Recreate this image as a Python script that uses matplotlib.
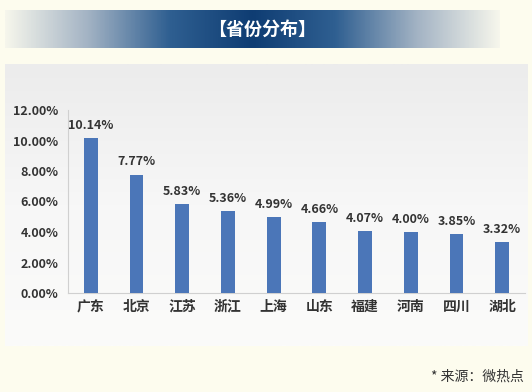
import matplotlib
matplotlib.use('Agg')
import matplotlib.pyplot as plt
from matplotlib.colors import LinearSegmentedColormap
import numpy as np

plt.rcParams['font.family'] = ['Noto Sans CJK SC', 'DejaVu Sans']

provinces = ['广东', '北京', '江苏', '浙江', '上海', '山东', '福建', '河南', '四川', '湖北']
shares = [10.14, 7.77, 5.83, 5.36, 4.99, 4.66, 4.07, 4.00, 3.85, 3.32]
y_ticks = [0, 2, 4, 6, 8, 10, 12]

W, H = 532, 392
fig = plt.figure(figsize=(W / 100, H / 100), dpi=100)
fig.patch.set_facecolor('#fdfcee')

# title banner with horizontal gradient
bx = fig.add_axes([5 / W, 1 - 48 / H, 495 / W, 38 / H])
x = np.linspace(-1, 1, 400)
grad = np.abs(x)[None, :]
banner = LinearSegmentedColormap.from_list('banner', ['#0f3d73', '#2f5f91', '#a3b3c4', '#f6f6ec'])
bx.imshow(grad, aspect='auto', cmap=banner, extent=[0, 1, 0, 1])
bx.text(0.52, 0.5, '【省份分布】', color='white', fontsize=13, fontweight='bold',
        ha='center', va='center')
bx.axis('off')

# panel background
px = fig.add_axes([5 / W, 1 - 346 / H, 523 / W, 282 / H])
g = np.linspace(0, 1, 300)[:, None]
panel = LinearSegmentedColormap.from_list('panel', ['#ececec', '#f7f7f7', '#fbfbfa'])
px.imshow(g, aspect='auto', cmap=panel, extent=[0, 1, 0, 1])
px.axis('off')

# chart
ax = fig.add_axes([68 / W, 1 - 293 / H, 457 / W, 183 / H])
ax.set_facecolor('none')
pos = np.arange(len(provinces))
ax.bar(pos, shares, width=0.3, color='#4b76b8', zorder=3)
for p, v in zip(pos, shares):
    ax.text(p, v + 0.4, '%.2f%%' % v, ha='center', va='bottom', fontsize=9,
            fontweight='bold', color='#333333')
ax.set_xlim(-0.5, len(provinces) - 0.5)
ax.set_ylim(0, 12)
ax.set_yticks(y_ticks)
ax.set_yticklabels(['%.2f%%' % t for t in y_ticks], fontsize=9, fontweight='bold',
                   color='#333333')
ax.set_xticks(pos)
ax.set_xticklabels(provinces, fontsize=10, fontweight='bold', color='#333333')
ax.tick_params(length=0)
ax.tick_params(axis='y', pad=7)
ax.tick_params(axis='x', pad=5)
for s in ['top', 'right']:
    ax.spines[s].set_visible(False)
for s in ['left', 'bottom']:
    ax.spines[s].set_color('#d0d0d0')

fig.text(524 / W, 1 - 377 / H, '* 来源：微热点', ha='right', va='center', fontsize=10,
         color='#333333')

fig.savefig('out.png', dpi=100, facecolor=fig.get_facecolor())
